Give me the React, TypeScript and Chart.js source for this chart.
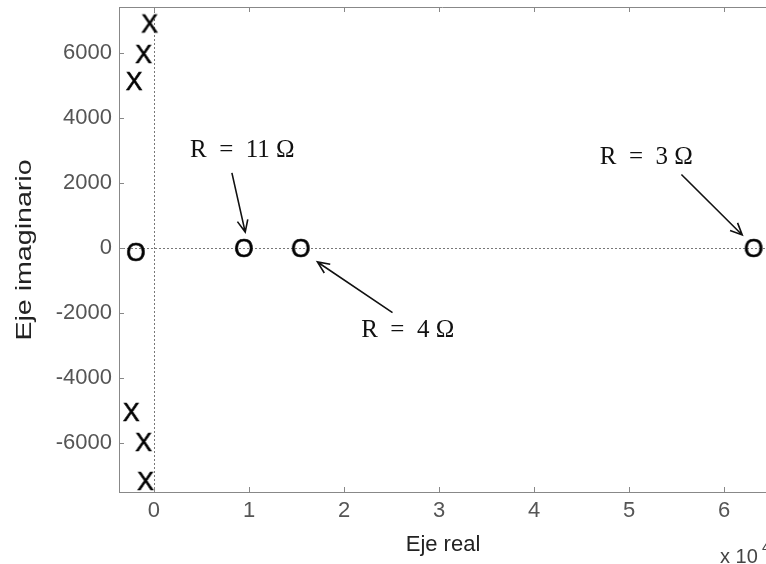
import React, { useEffect, useRef } from "react";
import { Chart, registerables } from "chart.js";

Chart.register(...registerables);

// Data (real axis in units of 10^4)
const polesX = [-0.047, -0.11, -0.21, -0.24, -0.11, -0.09];
const polesY = [6908, 5969, 5138, -5046, -5969, -7169];
const zerosX = [-0.19, 0.946, 1.545, 6.31];
const zerosY = [-120, 0, 0, 0];
const xTicks = [0, 1, 2, 3, 4, 5, 6];
const yTicks = [-6000, -4000, -2000, 0, 2000, 4000, 6000];
const annotationLabels = ["R = 11 Ω", "R = 4 Ω", "R = 3 Ω"];
const annotationText = [
  [0.93, 3000],
  [2.67, -2530],
  [5.18, 2800],
];
const annotationFrom = [
  [0.82, 2310],
  [2.51, -1990],
  [5.55, 2260],
];
const annotationTo = [
  [0.96, 490],
  [1.72, -430],
  [6.19, 400],
];

const X_MIN = -0.368;
const X_MAX = 6.44;
const Y_MIN = -7508;
const Y_MAX = 7415;

function glyph(ch: string): HTMLCanvasElement {
  const c = document.createElement("canvas");
  c.width = 28;
  c.height = 28;
  const ctx = c.getContext("2d")!;
  ctx.fillStyle = "#000";
  ctx.strokeStyle = "#000";
  ctx.lineWidth = 0.6;
  ctx.font = '25px "Liberation Sans", Arial, sans-serif';
  ctx.textAlign = "center";
  ctx.textBaseline = "alphabetic";
  ctx.fillText(ch, 14, 14 + 9);
  ctx.strokeText(ch, 14, 14 + 9);
  return c;
}

const overlay = {
  id: "overlay",
  beforeDatasetsDraw(chart: any) {
    const { ctx, chartArea, scales } = chart;
    const x = scales.x;
    const y = scales.y;
    ctx.save();
    ctx.strokeStyle = "#777";
    ctx.lineWidth = 1;
    ctx.setLineDash([2, 2]);
    const x0 = Math.round(x.getPixelForValue(0)) + 0.5;
    const y0 = Math.round(y.getPixelForValue(0)) + 0.5;
    ctx.beginPath();
    ctx.moveTo(x0, chartArea.top);
    ctx.lineTo(x0, chartArea.bottom);
    ctx.moveTo(chartArea.left, y0);
    ctx.lineTo(chartArea.right, y0);
    ctx.stroke();
    ctx.restore();
  },
  afterDraw(chart: any) {
    const { ctx, chartArea, scales } = chart;
    const x = scales.x;
    const y = scales.y;
    ctx.save();
    // top border
    ctx.strokeStyle = "#888";
    ctx.lineWidth = 1;
    ctx.beginPath();
    ctx.moveTo(chartArea.left, chartArea.top + 0.5);
    ctx.lineTo(chartArea.right, chartArea.top + 0.5);
    ctx.stroke();
    // inward ticks
    ctx.beginPath();
    xTicks.forEach((v) => {
      const px = Math.round(x.getPixelForValue(v)) + 0.5;
      ctx.moveTo(px, chartArea.bottom);
      ctx.lineTo(px, chartArea.bottom - 5);
      ctx.moveTo(px, chartArea.top);
      ctx.lineTo(px, chartArea.top + 5);
    });
    yTicks.forEach((v) => {
      const py = Math.round(y.getPixelForValue(v)) + 0.5;
      ctx.moveTo(chartArea.left, py);
      ctx.lineTo(chartArea.left + 5, py);
    });
    ctx.stroke();

    // annotations
    ctx.fillStyle = "#111";
    ctx.strokeStyle = "#111";
    ctx.lineWidth = 1.6;
    ctx.font = '25px "Liberation Serif", "Times New Roman", serif';
    ctx.textAlign = "center";
    ctx.textBaseline = "middle";
    annotationLabels.forEach((lab, i) => {
      const tx = x.getPixelForValue(annotationText[i][0]);
      const ty = y.getPixelForValue(annotationText[i][1]);
      const parts = lab.split(" ");
      const txt = parts[0] + "\u2002" + parts[1] + "\u2002" + parts[2] + " " + parts[3];
      ctx.fillText(txt, tx, ty);
      const fx = x.getPixelForValue(annotationFrom[i][0]);
      const fy = y.getPixelForValue(annotationFrom[i][1]);
      const ex = x.getPixelForValue(annotationTo[i][0]);
      const ey = y.getPixelForValue(annotationTo[i][1]);
      ctx.beginPath();
      ctx.moveTo(fx, fy);
      ctx.lineTo(ex, ey);
      const ang = Math.atan2(ey - fy, ex - fx);
      const hl = 13;
      const ha = 0.42;
      ctx.moveTo(ex - hl * Math.cos(ang - ha), ey - hl * Math.sin(ang - ha));
      ctx.lineTo(ex, ey);
      ctx.lineTo(ex - hl * Math.cos(ang + ha), ey - hl * Math.sin(ang + ha));
      ctx.stroke();
    });

    // axis titles
    ctx.fillStyle = "#222";
    ctx.font = '22px "Liberation Sans", Arial, sans-serif';
    ctx.textAlign = "center";
    ctx.textBaseline = "middle";
    ctx.fillText("Eje real", 443, 545);
    ctx.save();
    ctx.translate(25, 250);
    ctx.rotate(-Math.PI / 2);
    ctx.scale(1.3, 1);
    ctx.fillText("Eje imaginario", 0, 0);
    ctx.restore();
    ctx.textAlign = "left";
    ctx.textBaseline = "alphabetic";
    ctx.fillStyle = "#444";
    ctx.font = '20px "Liberation Sans", Arial, sans-serif';
    ctx.fillText("x 10", 720, 563);
    ctx.font = '14px "Liberation Sans", Arial, sans-serif';
    ctx.fillText("4", 762, 552);
    ctx.restore();
  },
};

export default function App() {
  const ref = useRef<HTMLCanvasElement>(null);
  useEffect(() => {
    const xImg = glyph("X");
    const oImg = glyph("O");
    const chart = new Chart(ref.current!, {
      type: "scatter",
      data: {
        datasets: [
          {
            label: "Polos",
            data: polesX.map((v, i) => ({ x: v, y: polesY[i] })),
            pointStyle: xImg,
            showLine: false,
          },
          {
            label: "Ceros",
            data: zerosX.map((v, i) => ({ x: v, y: zerosY[i] })),
            pointStyle: oImg,
            showLine: false,
          },
        ],
      },
      options: {
        animation: false,
        responsive: false,
        devicePixelRatio: 1,
        layout: { autoPadding: false, padding: { top: 7, right: 0, left: 0, bottom: 0 } },
        plugins: { legend: { display: false }, tooltip: { enabled: false } },
        scales: {
          x: {
            type: "linear",
            min: X_MIN,
            max: X_MAX,
            afterFit: (s: any) => {
              s.height = 72;
              s.paddingLeft = 0;
              s.paddingRight = 0;
            },
            afterBuildTicks: (s: any) => {
              s.ticks = xTicks.map((v) => ({ value: v }));
            },
            ticks: {
              color: "#555",
              font: { family: '"Liberation Sans", Arial, sans-serif', size: 22 },
              padding: 6,
              maxRotation: 0,
              autoSkip: false,
              callback: (v: any) => String(v),
            },
            grid: { display: true, drawOnChartArea: false, drawTicks: false },
            border: { display: true, color: "#888", width: 1 },
          },
          y: {
            type: "linear",
            min: Y_MIN,
            max: Y_MAX,
            afterFit: (s: any) => {
              s.width = 119;
              s.paddingTop = 0;
              s.paddingBottom = 0;
            },
            afterBuildTicks: (s: any) => {
              s.ticks = yTicks.map((v) => ({ value: v }));
            },
            ticks: {
              color: "#555",
              font: { family: '"Liberation Sans", Arial, sans-serif', size: 22 },
              padding: 7,
              autoSkip: false,
              callback: (v: any) => String(v),
            },
            grid: { display: true, drawOnChartArea: false, drawTicks: false },
            border: { display: true, color: "#888", width: 1 },
          },
        },
      },
      plugins: [overlay],
    });
    return () => chart.destroy();
  }, []);
  return (
    <div style={{ position: "fixed", left: 0, top: 0, width: 766, height: 564, background: "#fff" }}>
      <canvas ref={ref} width={766} height={564} />
    </div>
  );
}
